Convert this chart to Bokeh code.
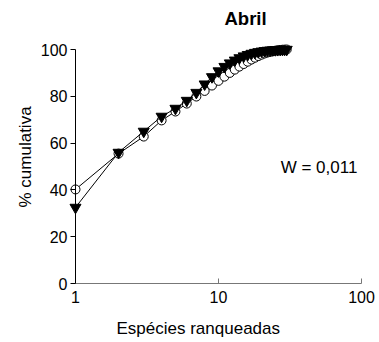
from bokeh.plotting import figure
from bokeh.models import Range1d, FixedTicker, Title, Label
from bokeh.embed import file_html
from bokeh.resources import INLINE

# ---- data ----
ranks = list(range(1, 31))
circles = [40.2, 55.5, 62.8, 69.7, 73.5, 76.9, 79.9, 82.3, 84.6, 86.6,
           88.4, 90.0, 91.4, 92.7, 93.8, 94.8, 95.7, 96.5, 97.2, 97.8,
           98.3, 98.7, 99.0, 99.3, 99.5, 99.7, 99.8, 99.9, 99.95, 100.0]
triangles = [32.5, 56.0, 65.0, 71.4, 74.8, 78.2, 81.6, 85.2, 88.3, 90.8,
             92.7, 94.2, 95.4, 96.4, 97.2, 97.8, 98.3, 98.7, 99.0, 99.25,
             99.45, 99.6, 99.7, 99.8, 99.86, 99.91, 99.95, 99.98, 100.0, 100.0]
x_ticks = [1, 10, 100]
x_tick_labels = ["1", "10", "100"]
y_ticks = [0, 20, 40, 60, 80, 100]
y_tick_labels = ["0", "20", "40", "60", "80", "100"]
title_text = "Abril"
x_label = "Espécies ranqueadas"
y_label = "% cumulativa"
w_text = "W = 0,011"

FONT = "Liberation Sans"

# The data frame is widened so that the axes, pinned at x=1 and y=0,
# keep their tick labels inside it (pinned axes are clipped to the frame).
p = figure(width=379, height=342, frame_width=337, frame_height=286,
           x_axis_type="log",
           x_range=Range1d(10 ** -0.25874, 10 ** 2.0979),
           y_range=Range1d(-14.957, 107.265),
           output_backend="svg", toolbar_location=None,
           min_border_left=38, min_border_right=0,
           min_border_top=32, min_border_bottom=24)
p.outline_line_color = None
p.grid.visible = False
p.background_fill_color = "white"
p.border_fill_color = "white"

p.title.text = title_text
p.title.align = "left"
p.title.offset = 186
p.title.vertical_align = "bottom"
p.title.text_font = FONT
p.title.text_font_size = "18.5px"
p.title.text_font_style = "bold"
p.title.text_color = "black"
p.title.standoff = 8

# x axis
xa = p.xaxis[0]
xa.ticker = FixedTicker(ticks=x_ticks, minor_ticks=[])
xa.major_label_overrides = {t: l for t, l in zip(x_ticks, x_tick_labels)}
xa.fixed_location = 0
xa.bounds = (x_ticks[0], x_ticks[-1])
xa.axis_line_color = "#777777"
xa.major_tick_line_color = "#777777"
xa.major_tick_in = 5
xa.major_tick_out = 0
xa.minor_tick_in = 0
xa.minor_tick_out = 0
xa.major_label_standoff = 7
xa.major_label_text_font = FONT
xa.major_label_text_font_size = "16px"
xa.major_label_text_color = "black"

# y axis
ya = p.yaxis[0]
ya.ticker = FixedTicker(ticks=y_ticks, minor_ticks=[])
ya.major_label_overrides = {t: l for t, l in zip(y_ticks, y_tick_labels)}
ya.fixed_location = 1
ya.bounds = (y_ticks[0], y_ticks[-1])
ya.axis_line_color = "black"
ya.major_tick_line_color = "black"
ya.major_tick_in = 0
ya.major_tick_out = 5
ya.minor_tick_in = 0
ya.minor_tick_out = 0
ya.major_label_standoff = 3
ya.major_label_text_font = FONT
ya.major_label_text_font_size = "16px"
ya.major_label_text_color = "black"

# axis titles
xt = Title(text=x_label, align="left", offset=78, vertical_align="top",
           text_font=FONT, text_font_size="17px", text_font_style="normal",
           text_color="black", standoff=0)
p.add_layout(xt, "below")
yt = Title(text=y_label, align="left", offset=111, vertical_align="bottom",
           text_font=FONT, text_font_size="17px", text_font_style="normal",
           text_color="black", standoff=8)
p.add_layout(yt, "left")

# series
p.line(ranks, circles, line_color="black", line_width=1)
p.scatter(ranks, circles, marker="circle", size=9, fill_color="white",
          line_color="black", line_width=1)
p.line(ranks, triangles, line_color="black", line_width=1)
p.scatter(ranks, triangles, marker="inverted_triangle", size=11,
          fill_color="black", line_color="black", line_width=1)

p.add_layout(Label(x=27.2, y=49.7, text=w_text, text_font=FONT,
                   text_font_size="17px", text_color="black",
                   text_baseline="alphabetic"))

open("out.html", "w").write(file_html(p, INLINE))
